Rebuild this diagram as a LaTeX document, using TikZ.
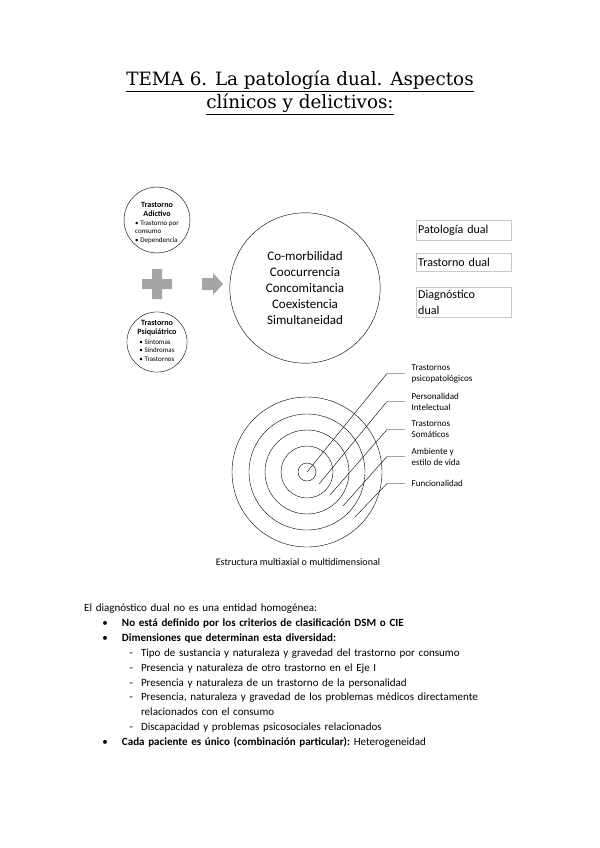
\documentclass[tikz,border=0pt]{standalone}
\usepackage{fontspec}
\setmainfont{Carlito}
\newfontfamily\titlefont{DejaVu Serif}
\usepackage{enumitem}
\usepackage{tikz}
\usetikzlibrary{positioning}
\definecolor{shapegray}{HTML}{A5A5A5}
\definecolor{boxgray}{HTML}{C8C8C8}

\begin{document}
\begin{tikzpicture}[x=0.3506mm,y=-0.3506mm,
  smallcirc/.style={draw,circle,minimum size=60pt,inner sep=0pt,align=center,font=\fontsize{8}{9}\selectfont\bfseries},
  termbox/.style={draw=boxgray,text width=91pt,inner xsep=2pt,inner ysep=3pt,align=left,font=\fontsize{12}{16}\selectfont},
  lbl/.style={anchor=west,inner xsep=6.5pt,inner ysep=0pt,align=left,font=\fontsize{9}{11}\selectfont}]
\useasboundingbox (0,0) rectangle (599,848);
\node[align=center,font=\titlefont\fontsize{18.3}{23}\selectfont] (title) at (300,93) {\underline{TEMA 6. La patología dual. Aspectos}\\\underline{clínicos y delictivos:}};
\node[smallcirc] (adict) at (157,220) {\rule{0pt}{12pt}Trastorno\\Adictivo\\[2pt]{\mdseries\fontsize{7}{8.5}\selectfont\begin{tabular}{@{}l@{}}• Trastorno por\\consumo\\• Dependencia\end{tabular}}};
\node[smallcirc] (psiq) at (157,342) {Trastorno\\Psiquiátrico\\[2pt]{\mdseries\fontsize{7}{8.5}\selectfont\begin{tabular}{@{}l@{}}• Síntomas\\• Síndromas\\• Trastornos\end{tabular}}};
\fill[shapegray] (152,269) rectangle (162,299) (142,279) rectangle (172,289);
\fill[shapegray] (202,278) -- (213,278) -- (213,273) -- (223,284) -- (213,295) -- (213,290) -- (202,290) -- cycle;
\node[draw,circle,minimum size=150pt,align=center,font=\fontsize{13}{16}\selectfont] (comorb) at (305,288) {Co-morbilidad\\Coocurrencia\\Concomitancia\\Coexistencia\\Simultaneidad};
\node[termbox,anchor=north west,minimum height=20pt] (patdual) at (416,220) {Patología dual};
\node[termbox,below=13pt of patdual,minimum height=17pt] (trasdual) {Trastorno dual};
\node[termbox,below=16pt of trasdual] (diagdual) {Diagnóstico\\dual};
\coordinate (ctr) at (307,472);
\foreach \r in {9,26,42,58,75} \draw (ctr) circle[radius=\r];
\coordinate (s1) at (307,472);\coordinate (s2) at (319,484);\coordinate (s3) at (330,495);\coordinate (s4) at (343,506);\coordinate (s5) at (355,517);
\node[lbl] (psico) at (405,373.5) {Trastornos\\psicopatológicos};
\node[lbl] (perso) at (405,401.5) {Personalidad\\Intelectual};
\node[lbl] (somat) at (405,429.5) {Trastornos\\Somáticos};
\node[lbl] (ambie) at (405,456.5) {Ambiente y\\estilo de vida};
\node[lbl] (funci) at (405,483.5) {Funcionalidad};
\draw (s1) -- (387,373.5) -- (psico.west);
\draw (s2) -- (387,401.5) -- (perso.west);
\draw (s3) -- (387,429.5) -- (somat.west);
\draw (s4) -- (387,456.5) -- (ambie.west);
\draw (s5) -- (387,483.5) -- (funci.west);
\node[font=\fontsize{10}{12}\selectfont] (caption) at (298,562) {Estructura multiaxial o multidimensional};
\node[anchor=north west,inner sep=0pt,text width=470pt,font=\fontsize{11}{14.8}\selectfont\frenchspacing] (body) at (84,604) {El diagnóstico dual no es una entidad homogénea:
\begin{itemize}[leftmargin=37.7pt,labelsep=14pt,itemsep=0pt,topsep=0pt,parsep=0pt,partopsep=0pt]
\item \textbf{No está definido por los criterios de clasificación DSM o CIE}
\item \textbf{Dimensiones que determinan esta diversidad:}
\begin{itemize}[label=-,leftmargin=19pt,labelsep=8pt,itemsep=0pt,topsep=0pt,parsep=0pt,partopsep=0pt]
\item Tipo de sustancia y naturaleza y gravedad del trastorno por consumo
\item Presencia y naturaleza de otro trastorno en el Eje I
\item Presencia y naturaleza de un trastorno de la personalidad
\item Presencia, naturaleza y gravedad de los problemas médicos directamente\\relacionados con el consumo
\item Discapacidad y problemas psicosociales relacionados
\end{itemize}
\item \textbf{Cada paciente es único (combinación particular):} Heterogeneidad
\end{itemize}};
\end{tikzpicture}
\end{document}
